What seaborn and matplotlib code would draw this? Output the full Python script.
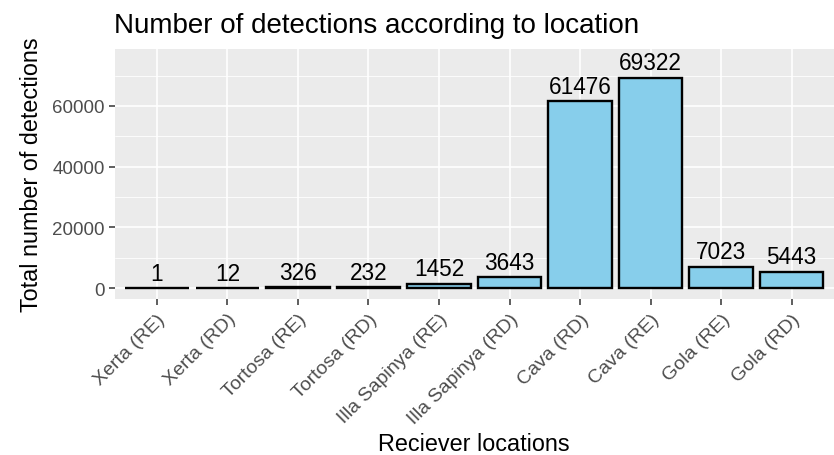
import matplotlib
matplotlib.use("Agg")
import matplotlib.pyplot as plt
from matplotlib.ticker import FixedLocator
import seaborn as sns
import pandas as pd

locations = ["Xerta (RE)", "Xerta (RD)", "Tortosa (RE)", "Tortosa (RD)",
             "Illa Sapinya (RE)", "Illa Sapinya (RD)", "Cava (RD)", "Cava (RE)",
             "Gola (RE)", "Gola (RD)"]
detections = [1, 12, 326, 232, 1452, 3643, 61476, 69322, 7023, 5443]
y_ticks = [0, 20000, 40000, 60000]

df = pd.DataFrame({"location": locations, "detections": detections})

sns.set_style("darkgrid")
plt.rcParams["font.family"] = ["Liberation Sans", "DejaVu Sans"]

fig = plt.figure(figsize=(8.34, 4.56), dpi=100)
W, H = 834, 456
ax = fig.add_axes([114.5 / W, 1 - 300 / H, (834 - 114.5) / W, 250 / H])
ax.set_facecolor("#EBEBEB")

sns.barplot(data=df, x="location", y="detections", order=locations,
            color="#87CEEB", edgecolor="black", linewidth=1.7,
            width=0.9, saturation=1, ax=ax, zorder=3)

for i, v in enumerate(detections):
    ax.annotate(f"{v}", xy=(i, v), xytext=(0, 2.5), textcoords="offset points",
                ha="center", va="bottom", fontsize=16.3, color="black", zorder=4)

ax.set_xlim(-0.6, len(locations) - 0.4)
ax.set_ylim(-3600, 78750)
ax.yaxis.set_major_locator(FixedLocator(y_ticks))
ax.yaxis.set_minor_locator(FixedLocator([10000, 30000, 50000, 70000]))

ax.grid(which="major", color="white", linewidth=1.2, zorder=0)
ax.grid(which="minor", axis="y", color="white", linewidth=0.6, zorder=0)
ax.set_axisbelow(True)
for s in ax.spines.values():
    s.set_visible(False)

ax.tick_params(axis="both", which="major", length=4, width=1.1,
               color="#333333", labelcolor="#4D4D4D", labelsize=13.5, pad=3,
               bottom=True, left=True)
ax.tick_params(axis="x", which="major", labelsize=14, pad=4)
ax.tick_params(axis="y", which="minor", length=0)
plt.setp(ax.get_xticklabels(), rotation=45, ha="right", rotation_mode="anchor")

# x-axis title sits at the bottom of the figure, centred under the panel
ax.set_xlabel("")
fig.text((114.5 + 834) / 2 / W, 1 - 451 / H, "Reciever locations",
         fontsize=16.8, color="black", ha="center", va="baseline")
ax.set_ylabel("Total number of detections", fontsize=16.8, color="black", labelpad=7)
ax.set_title("Number of detections according to location", fontsize=20,
             loc="left", color="black", pad=12)

fig.savefig("out.png", dpi=100, facecolor="white")
